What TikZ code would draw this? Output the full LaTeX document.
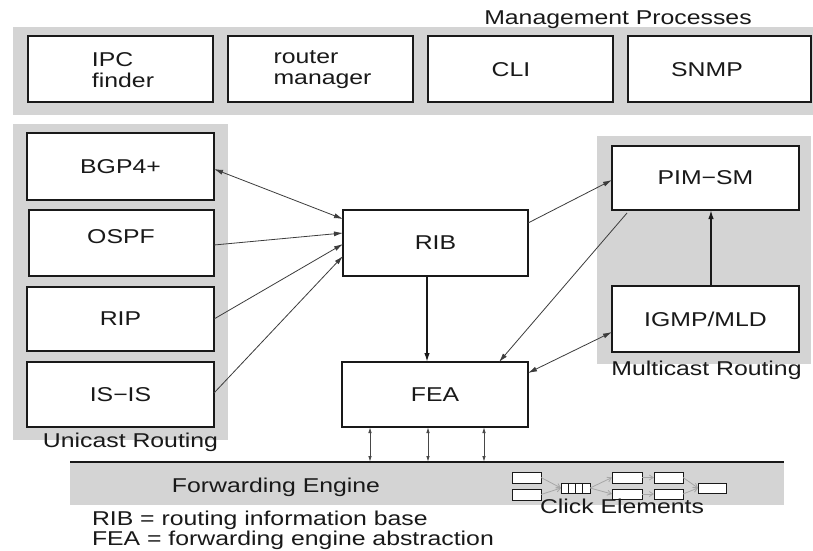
\documentclass[tikz,border=0pt]{standalone}
\usepackage{fontspec}
\setmainfont{Liberation Sans}[FakeStretch=1.24]
\usetikzlibrary{arrows.meta,calc}
\definecolor{band}{RGB}{212,212,212}
\definecolor{ink}{RGB}{25,25,25}
\begin{document}
\begin{tikzpicture}[x=1pt,y=-1pt,
  every node/.style={font=\fontsize{20}{21}\selectfont, text=ink, inner sep=0pt, outer sep=0pt},
  bandfill/.style={fill=band, draw=none},
  procbox/.style={draw=ink, line width=1.4pt, fill=white, minimum width=186pt, minimum height=66pt},
  thinarrow/.style={draw=ink!85, line width=0.8pt, -{Latex[length=9pt,width=5pt]}},
  thinboth/.style={draw=ink!85, line width=0.8pt, {Latex[length=9pt,width=5pt]}-{Latex[length=9pt,width=5pt]}},
  thickarrow/.style={draw=ink, line width=1.5pt, -{Latex[length=9pt,width=5.5pt]}},
  busarrow/.style={draw=ink!80, line width=0.9pt, {Latex[length=6pt,width=3.5pt]}-{Latex[length=6pt,width=3.5pt]}},
  clickbox/.style={draw=ink, line width=1pt, fill=white, minimum height=11pt},
  clickarrow/.style={draw=black!35, line width=0.8pt, -{Straight Barb[length=4pt,width=5pt]}}
]
\useasboundingbox (0,0) rectangle (813,550);
\fill[white] (0,0) rectangle (813,550);

% background bands
\fill[bandfill] (13,27) rectangle (813,115);
\fill[bandfill] (13,124) rectangle (228,440);
\fill[bandfill] (597,136) rectangle (811,364);
\fill[bandfill] (70,462) rectangle (784,505);
\draw[ink, line width=1.5pt] (70,462) -- (784,462);
\coordinate (fe) at (70,462);

% group labels
\node (mgmtlbl) at (618,20) {Management Processes};
\node (unilbl) at (130.5,442) {Unicast Routing};
\node (multilbl) at (706.5,370) {Multicast Routing};
\node (felbl) at (276,487) {Forwarding Engine};

% management boxes
\node[procbox, minimum width=185pt] (ipc) at (120.5,69) {};
\node[procbox, minimum width=185pt] (rm) at (320.5,69) {};
\node[procbox, minimum width=185pt] (cli) at (520.5,69) {};
\node[procbox, minimum width=183pt] (snmp) at (719.5,69) {};
\node[align=left] (ipct) at (123,70) {IPC\\finder};
\node[align=left] (rmt) at (322.5,70) {router\\manager};
\node (clit) at (511,70) {CLI};
\node (snmpt) at (707,70) {SNMP};

% unicast
\node[procbox, minimum width=187pt, minimum height=67pt] (bgp) at (120.5,166.5) {BGP4+};
\node[procbox, minimum width=185pt] (ospf) at (121.5,243) {};
\node (ospft) at (121,237) {OSPF};
\node[procbox, minimum width=187pt, minimum height=64pt] (rip) at (120.5,319) {RIP};
\node[procbox, minimum width=187pt, minimum height=65pt] (isis) at (120.5,394.5) {IS−IS};

% core
\node[procbox, minimum width=185pt] (rib) at (435.5,243) {RIB};
\node[procbox, minimum width=186pt, minimum height=65pt] (fea) at (435,394.5) {FEA};

% multicast
\node[procbox, minimum width=187pt, minimum height=64pt] (pim) at (705.5,178) {PIM−SM};
\node[procbox, minimum width=187pt] (igmp) at (705.5,319) {IGMP/MLD};

% connectors
\draw[thinboth] ($(bgp.east)+(0,2.5)$) -- ($(rib.north west)+(0,9)$);
\draw[thinarrow] ($(ospf.east)+(0,2)$) -- ($(rib.north west)+(0,23)$);
\draw[thinarrow] (rip.east) -- ($(rib.north west)+(0,34)$);
\draw[thinarrow] ($(isis.east)+(0,-1.5)$) -- ($(rib.north west)+(0,46)$);
\draw[thinarrow] ($(rib.north east)+(0,13)$) -- ($(pim.west)+(0,2)$);
\draw[thinarrow] ($(pim.south west)+(15,3)$) -- ($(fea.north east)+(-29,0)$);
\draw[thinboth] ($(igmp.west)+(0,13)$) -- ($(fea.north east)+(0,11)$);
\draw[thickarrow] ($(igmp.north)+(5.5,0)$) -- ($(pim.south)+(5.5,0)$);
\draw[thickarrow] ($(rib.south)+(-8.5,0)$) -- ($(fea.north)+(-8,0)$);

% FEA <-> forwarding engine
\draw[busarrow] ($(fea.south)+(-65,0)$) coordinate (b1) -- (b1 |- fe);
\draw[busarrow] ($(fea.south)+(-7,0)$) coordinate (b2) -- (b2 |- fe);
\draw[busarrow] ($(fea.south)+(49,0)$) coordinate (b3) -- (b3 |- fe);

% click elements
\node[clickbox, minimum width=29pt] (c1) at (526.5,477.5) {};
\node[clickbox, minimum width=29pt] (c2) at (526.5,494.5) {};
\node[clickbox, minimum width=29pt, minimum height=10pt] (q) at (575.5,488) {};
\foreach \dx in {-7.25,0,7.25} \draw[ink, line width=1pt] ($(q.north)+(\dx,0)$) -- ($(q.south)+(\dx,0)$);
\node[clickbox, minimum width=30pt] (m1) at (627,477.5) {};
\node[clickbox, minimum width=30pt, minimum height=10pt] (m2) at (627,494) {};
\node[clickbox, minimum width=29pt] (n1) at (668.5,477.5) {};
\node[clickbox, minimum width=29pt, minimum height=10pt] (n2) at (668.5,494) {};
\node[clickbox, minimum width=28pt, minimum height=10pt] (fin) at (712,488) {};
\draw[clickarrow] (c1.east) -- (q.west);
\draw[clickarrow] (c2.east) -- (q.west);
\draw[clickarrow] (q.east) -- (m1.west);
\draw[clickarrow] (q.east) -- (m2.west);
\draw[clickarrow] (m1.east) -- (n1.west);
\draw[clickarrow] (m2.east) -- (n2.west);
\draw[clickarrow] (n1.east) -- (fin.west);
\draw[clickarrow] (n2.east) -- (fin.west);
\node (clicklbl) at (622,506) {Click Elements};

% legend
\node[align=left, anchor=west, font=\fontsize{20}{17}\selectfont] (legend) at (92,530) {RIB = routing information base\\FEA = forwarding engine abstraction};
\end{tikzpicture}
\end{document}
